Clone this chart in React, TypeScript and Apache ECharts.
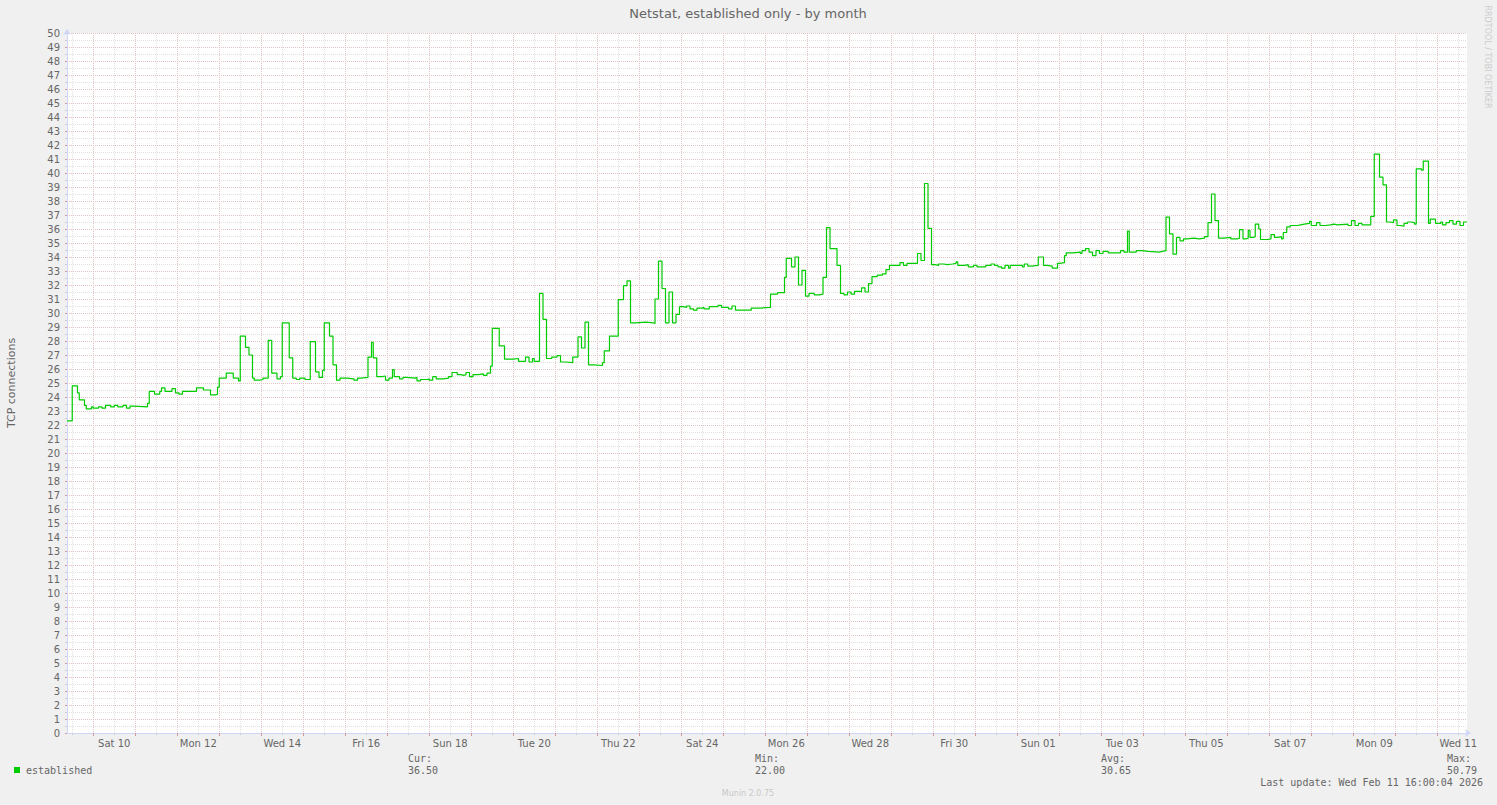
import React, { useEffect, useRef } from 'react';
import * as echarts from 'echarts';

const TITLE = 'Netstat, established only - by month';
const Y_NAME = 'TCP connections';
const SIDE_TEXT = 'RRDTOOL / TOBI OETIKER';
const FOOTER = 'Munin 2.0.75';
const LAST_UPDATE = 'Last update: Wed Feb 11 16:00:04 2026';
const SERIES_NAME = 'established';

const HOURS_TOTAL = 800;
const FIRST_MIDNIGHT = 15;
const FIRST_NOON = 3;
const FIRST_LABEL = 27;
const LABEL_STEP = 48;
const X_TICK_LABELS = [
  'Sat 10', 'Mon 12', 'Wed 14', 'Fri 16', 'Sun 18', 'Tue 20', 'Thu 22', 'Sat 24', 'Mon 26',
  'Wed 28', 'Fri 30', 'Sun 01', 'Tue 03', 'Thu 05', 'Sat 07', 'Mon 09', 'Wed 11',
];

const STAT_NAMES = ['Cur:', 'Min:', 'Avg:', 'Max:'];
const STAT_VALUES = ['36.50', '22.00', '30.65', '50.79'];

const SAMPLE_HOURS = [
  0, 3, 6, 7, 10, 11, 14, 15, 18, 20, 22, 25, 27, 29, 32, 34, 36, 38, 46, 47,
  50, 53, 54, 56, 60, 62, 64, 66, 74, 78, 82, 85, 86, 87, 91, 95, 98, 99, 102, 104,
  106, 107, 110, 112, 115, 117, 120, 122, 123, 127, 129, 131, 133, 136, 139, 142, 144, 146, 147, 150,
  152, 154, 156, 160, 164, 166, 168, 172, 174, 175, 177, 180, 182, 184, 186, 187, 190, 192, 194, 199,
  200, 202, 206, 207, 209, 211, 215, 218, 220, 223, 225, 227, 228, 230, 232, 235, 238, 240, 242, 243,
  247, 250, 255, 258, 262, 264, 266, 267, 270, 272, 274, 277, 280, 282, 285, 289, 292, 294, 296, 298,
  301, 306, 307, 310, 315, 318, 320, 322, 325, 331, 335, 336, 338, 340, 342, 344, 346, 348, 350, 352,
  354, 356, 358, 360, 363, 364, 367, 372, 374, 378, 380, 382, 391, 396, 402, 406, 410, 411, 414, 416,
  418, 420, 422, 424, 427, 430, 432, 434, 436, 440, 442, 444, 446, 448, 450, 453, 454, 456, 458, 460,
  463, 466, 468, 470, 476, 478, 480, 486, 488, 490, 492, 494, 496, 498, 501, 503, 506, 508, 509, 513,
  515, 518, 520, 525, 528, 530, 532, 534, 536, 538, 539, 546, 547, 549, 551, 555, 558, 560, 563, 566,
  567, 570, 571, 575, 579, 580, 582, 584, 586, 588, 590, 592, 595, 602, 604, 606, 607, 611, 614, 618,
  624, 626, 628, 630, 632, 634, 636, 638, 640, 644, 647, 650, 652, 654, 656, 658, 661, 665, 669, 670,
  672, 674, 675, 676, 678, 679, 681, 682, 686, 688, 690, 692, 694, 695, 697, 699, 703, 705, 707, 710,
  711, 714, 716, 719, 722, 724, 726, 732, 734, 736, 738, 740, 745, 747, 750, 752, 754, 756, 758, 760,
  762, 764, 766, 768, 770, 771, 774, 775, 778, 779, 782, 785, 786, 788, 790, 792, 794, 796, 798, 800,
];

const SAMPLE_VALUES = [
  22.3, 24.8, 24.3, 23.8, 23.4, 23.15, 23.3, 23.2, 23.3, 23.2, 23.4, 23.3, 23.4, 23.3, 23.4, 23.2, 23.35, 23.3, 23.55, 24.4,
  24.2, 24.4, 24.65, 24.4, 24.6, 24.3, 24.2, 24.4, 24.65, 24.5, 24.15, 24.2, 24.7, 25.35, 25.7, 25.35, 25.15, 28.35, 27.55, 27.0,
  25.35, 25.2, 25.25, 25.35, 28.05, 25.7, 25.3, 25.45, 29.3, 26.8, 25.35, 25.25, 25.35, 25.25, 27.95, 25.8, 25.4, 25.9, 29.3, 28.35,
  26.3, 25.2, 25.35, 25.3, 25.2, 25.35, 25.4, 26.85, 27.9, 26.8, 25.45, 25.5, 25.2, 25.35, 25.95, 25.45, 25.3, 25.4, 25.35, 25.4,
  25.15, 25.25, 25.3, 25.2, 25.45, 25.3, 25.35, 25.45, 25.75, 25.6, 25.55, 25.6, 25.75, 25.45, 25.6, 25.65, 25.55, 25.7, 26.2, 28.9,
  27.65, 26.7, 26.75, 26.55, 26.85, 26.5, 26.75, 26.55, 31.4, 29.55, 26.75, 26.85, 26.95, 26.5, 26.45, 26.85, 28.3, 27.5, 29.35, 26.3,
  26.25, 26.45, 27.3, 28.35, 30.95, 31.95, 32.3, 29.3, 29.35, 29.3, 29.25, 31.0, 33.7, 31.75, 29.3, 31.5, 29.3, 29.9, 30.45, 30.4,
  30.5, 30.3, 30.2, 30.35, 30.4, 30.3, 30.45, 30.55, 30.4, 30.3, 30.5, 30.2, 30.35, 30.4, 31.35, 31.45, 32.55, 33.9, 33.3, 34.0,
  32.0, 33.05, 31.2, 31.4, 31.3, 31.35, 32.55, 36.1, 34.6, 33.4, 31.4, 31.3, 31.5, 31.35, 31.55, 31.5, 31.8, 31.5, 32.1, 32.6,
  32.7, 32.8, 33.1, 33.4, 33.6, 33.4, 33.55, 34.25, 33.75, 39.25, 36.05, 33.45, 33.4, 33.5, 33.45, 33.5, 33.55, 33.65, 33.4, 33.45,
  33.3, 33.4, 33.3, 33.4, 33.5, 33.4, 33.3, 33.2, 33.4, 33.2, 33.4, 33.3, 33.5, 33.35, 33.4, 34.0, 33.4, 33.35, 33.2, 33.55,
  33.6, 34.1, 34.3, 34.35, 34.25, 34.45, 34.6, 34.35, 34.1, 34.45, 34.25, 34.4, 34.3, 34.45, 34.35, 35.85, 34.35, 34.45, 34.4, 34.35,
  34.4, 34.45, 36.85, 35.65, 34.2, 35.4, 35.15, 35.3, 35.35, 35.3, 35.35, 35.45, 36.45, 38.5, 36.6, 35.35, 35.4, 35.3, 35.35, 35.95,
  35.3, 35.35, 35.9, 35.4, 35.45, 36.35, 36.0, 35.25, 35.3, 35.6, 35.4, 35.45, 35.3, 35.75, 36.15, 36.25, 36.3, 36.35, 36.4, 36.55,
  36.25, 36.45, 36.25, 36.3, 36.35, 36.3, 36.35, 36.25, 36.6, 36.25, 36.4, 36.3, 36.9, 41.35, 39.7, 39.15, 36.5, 36.45, 36.65, 36.25,
  36.2, 36.4, 36.5, 36.45, 36.35, 40.3, 40.2, 40.85, 36.4, 36.7, 36.4, 36.5, 36.3, 36.45, 36.6, 36.35, 36.55, 36.25, 36.5, 36.5,
];

const HOUR_CATEGORIES = Array.from({ length: HOURS_TOTAL + 1 }, (_, i) => String(i));

const SANS = "'DejaVu Sans', 'Liberation Sans', sans-serif";
const MONO = "'DejaVu Sans Mono', 'Liberation Mono', monospace";
const FONT_COLOR = '#666666';
const AXIS_COLOR = '#cfd6f8';
const MAJOR_GRID = '#e2c2c2';
const MINOR_GRID = '#e0e0e0';
const LINE_COLOR = '#00cc00';

const isMidnight = (i: number) => i >= FIRST_MIDNIGHT && (i - FIRST_MIDNIGHT) % 24 === 0;
const isNoon = (i: number) => i >= FIRST_NOON && (i - FIRST_NOON) % 24 === 0;
const isLabel = (i: number) => i >= FIRST_LABEL && (i - FIRST_LABEL) % LABEL_STEP === 0;

export default function App() {
  const ref = useRef<HTMLDivElement>(null);

  useEffect(() => {
    if (!ref.current) return;
    const chart = echarts.init(ref.current, undefined, { renderer: 'svg' });

    const statX = [408, 755, 1101, 1447];
    const graphics: any[] = [
      {
        type: 'text', x: 748, y: 13,
        style: { text: TITLE, fontSize: 13, fontFamily: SANS, fill: FONT_COLOR, align: 'center', verticalAlign: 'middle' },
      },
      {
        type: 'text', x: 11, y: 383, rotation: Math.PI / 2,
        style: { text: Y_NAME, fontSize: 11, fontFamily: SANS, fill: FONT_COLOR, align: 'center', verticalAlign: 'middle' },
      },
      {
        type: 'text', x: 1487, y: 57, rotation: -Math.PI / 2,
        style: { text: SIDE_TEXT, fontSize: 8, fontFamily: SANS, fill: '#cccccc', align: 'center', verticalAlign: 'middle' },
      },
      { type: 'rect', shape: { x: 14, y: 767, width: 6, height: 6 }, style: { fill: LINE_COLOR } },
      {
        type: 'text', x: 26, y: 770,
        style: { text: SERIES_NAME, fontSize: 10, fontFamily: MONO, fill: FONT_COLOR, align: 'left', verticalAlign: 'middle' },
      },
      {
        type: 'text', x: 1483, y: 782,
        style: { text: LAST_UPDATE, fontSize: 10, fontFamily: MONO, fill: FONT_COLOR, align: 'right', verticalAlign: 'middle' },
      },
      {
        type: 'text', x: 748, y: 793,
        style: { text: FOOTER, fontSize: 8, fontFamily: SANS, fill: '#c8c8c8', align: 'center', verticalAlign: 'middle' },
      },
    ];
    STAT_NAMES.forEach((name, i) => {
      graphics.push({
        type: 'text', x: statX[i], y: 758,
        style: { text: name, fontSize: 10, fontFamily: MONO, fill: FONT_COLOR, align: 'left', verticalAlign: 'middle' },
      });
      graphics.push({
        type: 'text', x: statX[i], y: 770,
        style: { text: STAT_VALUES[i], fontSize: 10, fontFamily: MONO, fill: FONT_COLOR, align: 'left', verticalAlign: 'middle' },
      });
    });

    const option: any = {
      animation: false,
      backgroundColor: '#f0f0f0',
      grid: {
        left: 67, right: 30, top: 33, bottom: 72,
        show: true, backgroundColor: '#ffffff', borderWidth: 0,
      },
      xAxis: [
        { type: 'value', min: 0, max: HOURS_TOTAL, show: false, position: 'bottom' },
        {
          type: 'category', data: HOUR_CATEGORIES, boundaryGap: false, position: 'bottom',
          axisLine: {
            show: true, onZero: false, lineStyle: { color: AXIS_COLOR, width: 1 },
            symbol: ['none', 'arrow'], symbolSize: [6, 6], symbolOffset: [0, 4],
          },
          axisTick: { show: true, interval: (i: number) => isMidnight(i), length: 3, lineStyle: { color: '#d09a9a' } },
          axisLabel: {
            show: true, interval: (i: number) => isLabel(i),
            formatter: (v: string) => X_TICK_LABELS[(Number(v) - FIRST_LABEL) / LABEL_STEP] || '',
            fontSize: 10, fontFamily: SANS, color: FONT_COLOR, margin: 5,
          },
          splitLine: { show: true, interval: (i: number) => isMidnight(i), lineStyle: { color: MAJOR_GRID, width: 1, type: [1, 1] } },
        },
        {
          type: 'category', data: HOUR_CATEGORIES, boundaryGap: false, position: 'bottom',
          axisLine: { show: false },
          axisTick: { show: true, interval: (i: number) => isNoon(i), length: 2, lineStyle: { color: '#cccccc' } },
          axisLabel: { show: false },
          splitLine: { show: true, interval: (i: number) => isNoon(i), lineStyle: { color: MINOR_GRID, width: 1, type: [1, 1] } },
        },
      ],
      yAxis: {
        type: 'value', min: 0, max: 50, interval: 1, position: 'left',
        axisLine: {
          show: true, onZero: false, lineStyle: { color: AXIS_COLOR, width: 1 },
          symbol: ['none', 'arrow'], symbolSize: [6, 6], symbolOffset: [0, 4],
        },
        axisTick: { show: true, length: 2, lineStyle: { color: '#d09a9a' } },
        minorTick: { show: true, splitNumber: 2, length: 2, lineStyle: { color: '#cccccc' } },
        axisLabel: { fontSize: 10, fontFamily: SANS, color: FONT_COLOR, margin: 7 },
        splitLine: { show: true, lineStyle: { color: MAJOR_GRID, width: 1, type: [1, 1] } },
        minorSplitLine: { show: true, lineStyle: { color: MINOR_GRID, width: 1, type: [1, 1] } },
      },
      graphic: graphics,
      series: [
        {
          name: SERIES_NAME, type: 'line', xAxisIndex: 0, yAxisIndex: 0,
          step: 'end', showSymbol: false, symbol: 'none',
          lineStyle: { color: LINE_COLOR, width: 1.2 },
          data: SAMPLE_HOURS.map((h, i) => [h, SAMPLE_VALUES[i]]),
          z: 5,
        },
      ],
    };

    chart.setOption(option);
    return () => chart.dispose();
  }, []);

  return (
    <div
      ref={ref}
      style={{ position: 'absolute', left: 0, top: 0, width: 1497, height: 805 }}
    />
  );
}
